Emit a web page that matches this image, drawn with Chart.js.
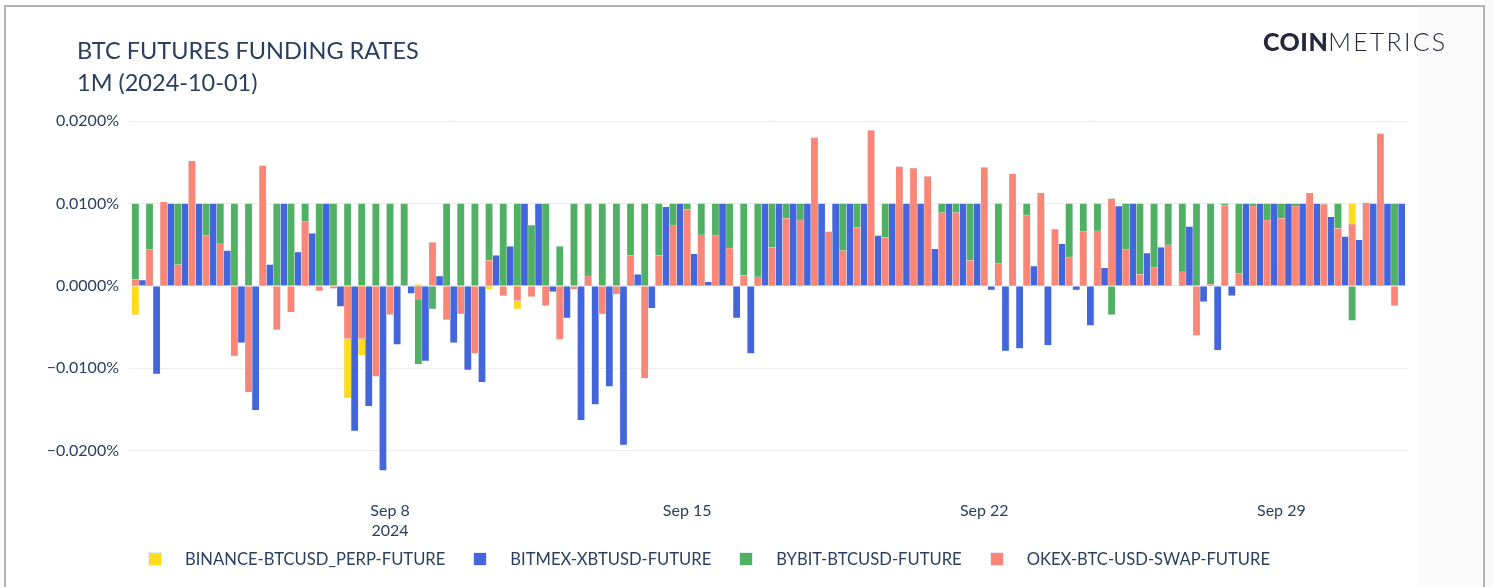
<!DOCTYPE html>
<html>
<head>
<meta charset="utf-8">
<title>BTC Futures Funding Rates</title>
<script src="https://cdn.jsdelivr.net/npm/chart.js@4.4.1/dist/chart.umd.min.js"></script>
<style>
  html, body { margin: 0; padding: 0; background: #fff; }
  body { width: 1493px; height: 587px; position: relative; overflow: hidden;
         font-family: Lato, "Noto Sans", sans-serif; color: #2a3f5f; }
  #outer-right { position: absolute; left: 1485px; top: 0; width: 8px; height: 587px; background: #f8f8f8; }
  #frame { position: absolute; left: 4px; top: 5px; width: 1477px; height: 600px;
           border: 2px solid #b3b3b3; border-bottom: none; background: #fff; }
  #side { position: absolute; left: 1419px; top: 7px; width: 63px; height: 580px; background: #fafafa; }
  #chart { position: absolute; left: 0; top: 0; }
  #title { position: absolute; left: 77px; top: 34px; font-size: 23.5px; line-height: 32px; white-space: nowrap; }
  #logo { position: absolute; left: 1263px; top: 26px; font-size: 25px; line-height: 30px; color: #252839; white-space: nowrap; }
  #logo b { font-weight: 900; letter-spacing: 0.5px; }
  #logo span { font-weight: 300; letter-spacing: 2.2px; }
  #legend { position: absolute; left: 148px; top: 549px; display: flex; font-size: 16.6px; line-height: 20px; white-space: nowrap; }
  .item { display: flex; align-items: center; margin-right: 28px; }
  .box { width: 14px; height: 14px; margin-right: 23px; box-sizing: border-box; border: 1px solid #e5ecf6; }
</style>
</head>
<body>
<div id="outer-right"></div>
<div id="frame"></div>
<div id="side"></div>
<canvas id="chart" width="1419" height="587"></canvas>
<div id="title">BTC FUTURES FUNDING RATES<br>1M (2024-10-01)</div>
<div id="logo"><b>COIN</b><span>METRICS</span></div>
<div id="legend"></div>

<script>
// -------------------------------
// funding times, in hours after 2024-09-01 00:00 UTC
// Binance / Bybit / OKEx settle at 00, 08, 16 UTC, BitMEX at 04, 12, 20 UTC
// -------------------------------
const firstHour = 24;        // 2024-09-02 00:00
const bitmexFirstHour = 28;  // 2024-09-02 04:00
const stepHours = 8;

const seriesNames = [
  "BINANCE-BTCUSD_PERP-FUTURE",
  "BITMEX-XBTUSD-FUTURE",
  "BYBIT-BTCUSD-FUTURE",
  "OKEX-BTC-USD-SWAP-FUTURE"
];
const seriesColors = ["#ffdc1a", "#4466dc", "#50b064", "#fa8677"];

// funding rate in percent (0.01 = 0.0100%)
const binance = [
  -0.0035, 0.01, 0.01, 0.01, 0.01, 0.01, 0.01, 0.01, 0.01, 0.01,
  0.01, 0.01, 0.01, 0.01, 0.01, -0.0136, -0.0084, 0.01, 0.01, 0.01,
  0.0002, 0.0035, 0.01, 0.01, 0.01, -0.0004, 0.01, -0.0028, 0.005, 0.01,
  0.004, 0.01, 0.01, 0.01, 0.01, 0.01, 0.01, 0.01, 0.01, 0.01,
  0.01, 0.01, 0.01, 0.01, 0.01, 0.01, 0.01, 0.01, 0.01, 0.006,
  0.01, 0.01, 0.01, 0.01, 0.01, 0.01, 0.01, 0.01, 0.01, 0.01,
  0.01, 0.01, 0.01, 0.01, 0.01, 0.006, 0.01, 0.01, 0.01, 0.01,
  0.01, 0.01, 0.01, 0.01, 0.01, 0.01, 0.01, 0.01, 0.01, 0.01,
  0.01, 0.01, 0.01, 0.01, 0.01, 0.01, 0.01, 0.01, 0.01, 0.01
];

const bitmex = [
  0.0007, -0.0107, 0.01, 0.01, 0.01, 0.01, 0.0043, -0.0069, -0.0151, 0.0026,
  0.01, 0.0041, 0.0064, 0.01, -0.0025, -0.0176, -0.0146, -0.0224, -0.0071, -0.0009,
  -0.0091, 0.0012, -0.0069, -0.0102, -0.0117, 0.0037, 0.0048, 0.01, 0.01, -0.0007,
  -0.0039, -0.0163, -0.0144, -0.0122, -0.0193, 0.0014, -0.0027, 0.0096, 0.01, 0.0039,
  0.0005, 0.01, -0.0039, -0.0082, 0.01, 0.01, 0.01, 0.01, 0.01, 0.01,
  0.01, 0.01, 0.0061, 0.01, 0.01, 0.01, 0.0045, 0.01, 0.01, 0.01,
  -0.0005, -0.0079, -0.0076, 0.0024, -0.0072, 0.0051, -0.0005, -0.0048, 0.0022, 0.0097,
  0.01, 0.004, 0.0047, null, 0.0072, -0.0019, -0.0078, -0.0012, 0.01, 0.01,
  0.01, 0.01, 0.01, 0.01, 0.0084, 0.006, 0.0056, 0.01, 0.01, 0.01
];

const bybit = [
  0.01, 0.01, 0.01, 0.01, 0.01, 0.01, 0.01, 0.01, 0.01, 0.01,
  0.01, 0.01, 0.01, 0.01, 0.01, 0.01, 0.01, 0.01, 0.01, 0.01,
  -0.0095, -0.0028, 0.01, 0.01, 0.01, 0.01, 0.01, 0.01, 0.0074, 0.01,
  0.0048, 0.01, 0.01, 0.01, 0.01, 0.01, 0.01, 0.01, 0.01, 0.01,
  0.01, 0.01, 0.01, 0.01, 0.01, 0.01, 0.01, 0.01, 0.01, null,
  0.01, 0.01, 0.01, 0.01, 0.01, 0.01, 0.01, 0.01, 0.01, 0.01,
  0.01, 0.01, 0.01, 0.01, 0.01, null, 0.01, 0.01, 0.01, -0.0035,
  0.01, 0.01, 0.01, 0.01, 0.01, 0.01, 0.01, 0.01, 0.01, 0.01,
  0.01, 0.01, 0.01, 0.01, 0.01, 0.01, -0.0042, 0.01, 0.01, 0.01
];

const okex = [
  0.0008, 0.0044, 0.0102, 0.0026, 0.0152, 0.0061, 0.0051, -0.0085, -0.0129, 0.0146,
  -0.0053, -0.0032, 0.0078, -0.0006, -0.0003, -0.0064, -0.0064, -0.011, -0.0035, null,
  -0.0016, 0.0053, -0.0041, -0.0034, -0.0082, 0.0031, -0.0012, -0.0018, -0.0013, -0.0024,
  -0.0065, -0.0004, 0.0012, -0.0034, -0.001, 0.0037, -0.0112, 0.0037, 0.0074, 0.0093,
  0.0062, 0.0061, 0.0046, 0.0013, 0.0011, 0.0047, 0.0082, 0.008, 0.018, 0.0066,
  0.0043, 0.0071, 0.0189, 0.0059, 0.0145, 0.0143, 0.0133, 0.0089, 0.0089, 0.0031,
  0.0144, 0.0027, 0.0136, 0.0086, 0.0113, 0.0069, 0.0035, 0.0066, 0.0067, 0.0106,
  0.0044, 0.0014, 0.0023, 0.005, 0.0017, -0.006, 0.0002, 0.0098, 0.0015, 0.0097,
  0.008, 0.0082, 0.0097, 0.0113, 0.0099, 0.007, 0.0075, 0.0101, 0.0185, -0.0024
];

// axis ticks
const xTickHours = [168, 336, 504, 672];
const xTickLabels = [["Sep 8", "2024"], "Sep 15", "Sep 22", "Sep 29"];
const yTicks = [-0.02, -0.01, 0, 0.01, 0.02];

// -------------------------------
// datasets (bars overlap, OKEx drawn on top)
// -------------------------------
function toPoints(values, start) {
  return values.map((v, i) => ({ x: start + stepHours * i, y: v }));
}

const allValues = [binance, bitmex, bybit, okex];
const starts = [firstHour, bitmexFirstHour, firstHour, firstHour];

const datasets = allValues.map((vals, i) => ({
  label: seriesNames[i],
  data: toPoints(vals, starts[i]),
  backgroundColor: seriesColors[i],
  borderColor: "#e5ecf6",
  borderWidth: 0.5,
  grouped: false,
  barPercentage: 1,
  categoryPercentage: 1,
  order: 4 - i
}));

const font = { family: "Lato, 'Noto Sans', sans-serif", size: 16 };

new Chart(document.getElementById("chart"), {
  type: "bar",
  data: { datasets },
  options: {
    responsive: false,
    animation: false,
    layout: { padding: { left: 0, right: 11, top: 113, bottom: 41 } },
    scales: {
      x: {
        type: "linear",
        min: 20.4,
        max: 743.6,
        offset: false,
        grid: { display: false, offset: false },
        border: { display: false },
        afterBuildTicks: axis => { axis.ticks = xTickHours.map(v => ({ value: v })); },
        afterFit: axis => { axis.height = 60; },
        ticks: {
          color: "#2a3f5f",
          font: { ...font, lineHeight: 1.3 },
          padding: 6,
          maxRotation: 0,
          autoSkip: false,
          callback: v => xTickLabels[xTickHours.indexOf(v)]
        }
      },
      y: {
        min: -0.0243,
        max: 0.021,
        grid: { color: "#ededed", drawTicks: false },
        border: { display: false },
        afterBuildTicks: axis => { axis.ticks = yTicks.map(v => ({ value: v })); },
        afterFit: axis => { axis.width = 129; },
        ticks: {
          color: "#2a3f5f",
          font,
          padding: 10,
          callback: v => (v < 0 ? "\u2212" : "") + Math.abs(v).toFixed(4) + "%"
        }
      }
    },
    plugins: {
      legend: { display: false },
      tooltip: { enabled: false }
    }
  }
});

// -------------------------------
// legend
// -------------------------------
const legend = document.getElementById("legend");
seriesNames.forEach((name, i) => {
  const item = document.createElement("div");
  item.className = "item";
  const box = document.createElement("div");
  box.className = "box";
  box.style.background = seriesColors[i];
  const txt = document.createElement("span");
  txt.textContent = name;
  item.appendChild(box);
  item.appendChild(txt);
  legend.appendChild(item);
});
</script>
</body>
</html>
